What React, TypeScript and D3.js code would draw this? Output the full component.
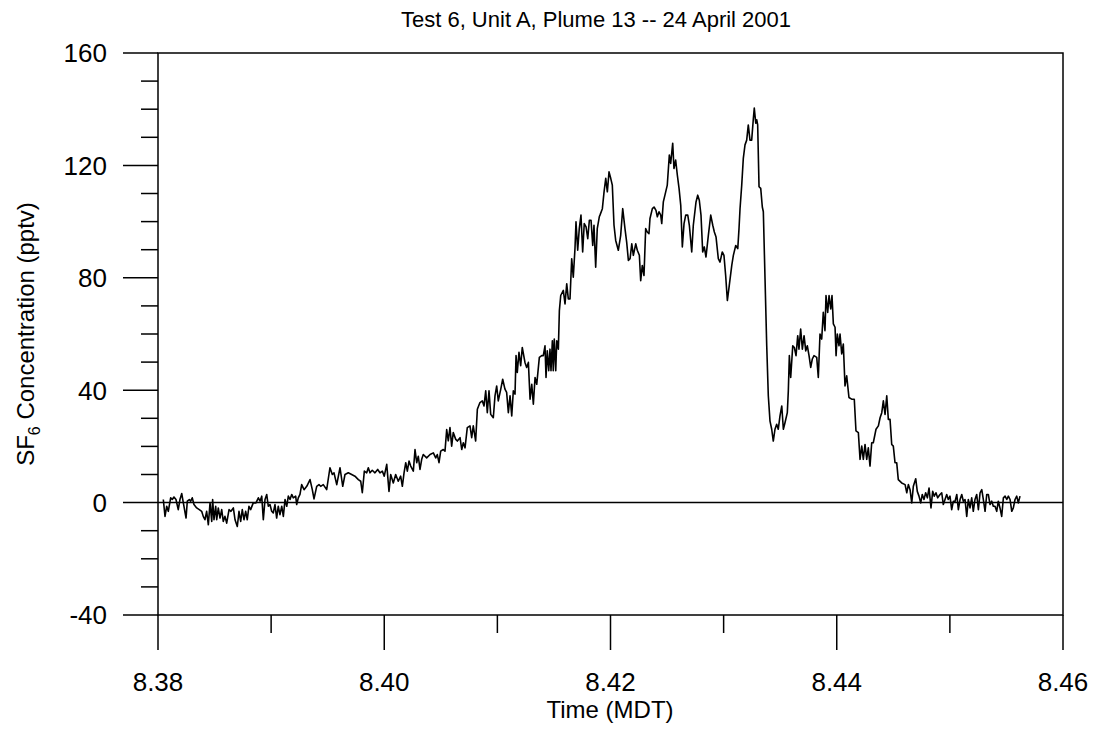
import { useEffect, useRef } from 'react';
import * as d3 from 'd3';

// axis ticks
const yMajorTicks = [-40, 0, 40, 80, 120, 160];
const yMinorTicks = [-30, -20, -10, 10, 20, 30, 50, 60, 70, 90, 100, 110, 130, 140, 150];
const xMajorTicks = [8.38, 8.4, 8.42, 8.44, 8.46];
const xMinorTicks = [8.39, 8.41, 8.43, 8.45];

// SF6 record, [time (decimal hours MDT), concentration (pptv)]
const preBaseline: [number, number][] = [
  [8.38047, 1.1], [8.38062, -4.9], [8.38077, -1.3], [8.38091, -3.1], [8.38112, 1.7], [8.38126, 1.1],
  [8.38141, 2.0], [8.38159, 1.1], [8.38179, -2.5], [8.38194, 1.1], [8.3821, 3.2], [8.38224, -0.1],
  [8.38248, -5.5], [8.38259, 0.5], [8.38277, 1.1], [8.38289, 0.5], [8.38303, 1.7], [8.38318, -0.7],
  [8.38342, -1.9], [8.38365, -2.5], [8.38386, -3.1], [8.384, -4.9], [8.38415, -6.1], [8.3843, -3.1],
  [8.38445, -7.9], [8.3846, -0.1], [8.38475, -6.7], [8.38483, 1.1], [8.38495, -6.1], [8.3851, -1.3],
  [8.38519, -6.1], [8.38533, -1.9], [8.38548, -5.5], [8.38563, -2.5], [8.38577, -6.7], [8.38592, -4.9],
  [8.38607, -7.3], [8.38628, -2.5], [8.38645, -3.1], [8.38666, -1.9], [8.38681, -6.1], [8.38701, -8.5],
  [8.38716, -3.1], [8.38731, -6.7], [8.38745, -2.5], [8.3876, -6.1], [8.38775, -3.1], [8.38789, -6.1],
  [8.38804, -1.3], [8.38819, -2.5], [8.38842, -0.1], [8.38866, -0.1], [8.38887, 1.7], [8.38902, 0.5],
  [8.38917, 2.3], [8.38931, -6.1], [8.38946, 1.1], [8.38961, 2.9], [8.38975, -1.3], [8.3899, -0.7],
  [8.39005, -3.1], [8.39019, -3.7], [8.39034, -0.7], [8.39049, -5.5], [8.39063, -1.3], [8.39078, -4.3],
  [8.39094, -1.3], [8.39108, -4.9], [8.39123, 1.1], [8.39138, -1.3], [8.39152, 2.3], [8.39167, 1.1],
  [8.39182, 2.9], [8.39196, 1.7], [8.39217, 2.3], [8.39226, -0.7], [8.3924, 1.7], [8.39255, 2.9],
];

const rise: [number, number][] = [
  [8.3927, 6.4], [8.39291, 4.6], [8.39315, 5.8], [8.39344, 8.2], [8.39364, 4.6], [8.39379, 1.3],
  [8.39403, 5.8], [8.39423, 6.4], [8.39438, 5.8], [8.39461, 6.4], [8.39491, 4.6], [8.3952, 12.4],
  [8.39541, 10.0], [8.39556, 10.6], [8.3958, 6.4], [8.39609, 12.4], [8.39633, 5.8], [8.39653, 10.0],
  [8.39682, 10.6], [8.39712, 10.0], [8.39741, 9.4], [8.39771, 8.2], [8.39792, 7.6], [8.39806, 3.5],
  [8.39824, 11.2], [8.39845, 10.6], [8.39859, 12.4], [8.39874, 10.6], [8.39894, 11.5], [8.39918, 10.6],
  [8.39942, 11.8], [8.39962, 10.6], [8.39983, 11.2], [8.4, 9.4], [8.40022, 13.6], [8.40042, 4.0],
  [8.40057, 10.0], [8.4008, 7.0], [8.40101, 10.0], [8.40124, 7.6], [8.40145, 9.4], [8.4016, 5.8],
  [8.40175, 10.6], [8.4019, 14.2], [8.40204, 11.2], [8.40219, 14.8], [8.40234, 13.0], [8.40257, 11.2],
  [8.40272, 18.9], [8.40287, 14.2], [8.40301, 16.5], [8.40316, 11.8], [8.40331, 15.4], [8.40345, 17.1],
  [8.40375, 15.9], [8.40405, 17.1], [8.40434, 17.7], [8.40455, 15.9], [8.40469, 17.1], [8.40484, 14.2],
  [8.40499, 18.3], [8.40522, 18.9], [8.40537, 18.3], [8.40552, 26.0], [8.40566, 22.0], [8.40581, 26.7],
  [8.40596, 20.1], [8.4061, 24.9], [8.40632, 22.5], [8.40646, 21.9], [8.4067, 23.1], [8.40685, 18.9],
  [8.40699, 21.3], [8.40714, 19.5], [8.40734, 26.7], [8.40758, 27.3], [8.40773, 23.1], [8.40787, 27.3],
  [8.40808, 21.9], [8.40823, 33.2], [8.40846, 35.6], [8.40867, 36.2], [8.40882, 34.4], [8.40897, 39.8],
  [8.40911, 32.0], [8.40926, 39.8], [8.40941, 31.4], [8.40964, 30.2], [8.40979, 38.0], [8.40994, 41.5],
  [8.41008, 36.2], [8.4103, 40.4], [8.41047, 43.9], [8.41067, 40.4], [8.41082, 39.2], [8.41097, 32.0],
  [8.41112, 38.0], [8.41127, 30.8], [8.41141, 39.8], [8.41156, 38.6], [8.41165, 52.3], [8.41176, 46.3],
  [8.41191, 53.5], [8.41206, 48.7], [8.4122, 55.2], [8.41244, 49.9], [8.41259, 48.1], [8.41274, 49.9],
  [8.41289, 36.8], [8.41304, 42.1], [8.41318, 35.0], [8.41333, 44.5], [8.41348, 42.1], [8.41371, 51.7],
  [8.41392, 52.3], [8.41406, 52.3], [8.41421, 55.8], [8.4143, 44.5], [8.41441, 54.0], [8.41454, 46.9],
  [8.41465, 54.6], [8.41474, 46.9], [8.41486, 57.6], [8.41494, 46.9], [8.41503, 58.2], [8.41516, 46.9],
  [8.41525, 57.6], [8.41539, 54.6], [8.41548, 68.3], [8.4156, 73.7], [8.41583, 75.5], [8.41598, 70.7],
  [8.41613, 77.9], [8.41627, 72.5], [8.41642, 72.5], [8.41657, 86.8], [8.41671, 80.2], [8.41686, 90.4],
];

const plumeCore: [number, number][] = [
  [8.41695, 99.9], [8.4171, 89.8], [8.41724, 97.5], [8.41739, 102.3], [8.41754, 89.2], [8.41768, 99.3],
  [8.41784, 98.1], [8.41799, 93.9], [8.41813, 100.5], [8.41828, 100.5], [8.41843, 91.5], [8.41854, 98.7],
  [8.41869, 83.8], [8.41883, 97.5], [8.41901, 101.7], [8.41907, 102.3], [8.41928, 104.6], [8.41943, 110.6],
  [8.41958, 115.4], [8.41972, 110.6], [8.41987, 117.7], [8.42002, 115.4], [8.42016, 113.0], [8.42031, 98.7],
  [8.42046, 93.3], [8.42069, 89.8], [8.4209, 95.1], [8.42108, 104.6], [8.42128, 97.5], [8.42143, 92.7],
  [8.42158, 86.2], [8.42173, 86.8], [8.42188, 92.1], [8.42202, 88.0], [8.42223, 92.1], [8.42237, 89.8],
  [8.42255, 88.0], [8.42267, 79.0], [8.42281, 84.4], [8.42296, 80.8], [8.42311, 97.5], [8.42325, 96.3],
  [8.4234, 95.7], [8.42349, 101.1], [8.4237, 104.6], [8.42385, 105.2], [8.42402, 104.0], [8.42414, 101.7],
  [8.42429, 103.5], [8.42444, 102.3], [8.42453, 99.3], [8.42467, 107.0], [8.42488, 110.6], [8.42502, 113.0],
  [8.4252, 123.7], [8.42532, 120.7], [8.4255, 127.9], [8.42561, 118.9], [8.42576, 121.9], [8.42591, 116.5],
  [8.42606, 111.8], [8.42621, 105.8], [8.42635, 91.0], [8.4265, 99.3], [8.42665, 102.3], [8.42683, 102.3],
  [8.42697, 98.7], [8.42718, 89.2], [8.42732, 98.7], [8.42756, 107.0], [8.42771, 109.4], [8.42785, 107.6],
  [8.428, 102.3], [8.42815, 89.2], [8.42829, 91.0], [8.42844, 87.4], [8.42865, 95.1], [8.42886, 102.3],
  [8.42904, 98.7], [8.42918, 96.3], [8.42933, 94.5], [8.42953, 86.8], [8.42968, 85.6], [8.42988, 89.2],
  [8.43003, 88.0], [8.43018, 80.8], [8.43033, 71.9], [8.4305, 77.3], [8.43072, 84.4], [8.43086, 88.0],
  [8.43107, 91.5], [8.43125, 90.4], [8.43136, 97.5], [8.43145, 104.6], [8.4316, 113.0], [8.43174, 122.5],
  [8.43189, 127.3], [8.43204, 129.0], [8.43218, 134.4], [8.43233, 129.0], [8.43248, 129.0], [8.43263, 136.8],
  [8.43271, 140.4], [8.43284, 135.0], [8.43293, 136.2], [8.43301, 134.4], [8.43313, 112.4], [8.43328, 111.8],
  [8.43342, 105.2], [8.43351, 103.5], [8.43366, 79.6], [8.43381, 55.8], [8.43395, 38.0], [8.4341, 29.0],
  [8.43425, 26.1], [8.43439, 21.9],
];

const secondHump: [number, number][] = [
  [8.43454, 26.1], [8.43469, 27.9], [8.43483, 26.1], [8.43498, 30.8], [8.43514, 34.4], [8.43528, 26.1],
  [8.43543, 28.5], [8.43563, 32.0], [8.43572, 39.8], [8.43581, 52.3], [8.43593, 44.5], [8.43611, 55.8],
  [8.43625, 55.2], [8.4364, 52.3], [8.43655, 59.4], [8.43666, 54.6], [8.43681, 61.8], [8.43696, 54.6],
  [8.43711, 59.4], [8.43726, 54.0], [8.4374, 55.8], [8.43755, 52.3], [8.4377, 48.1], [8.43784, 51.1],
  [8.43799, 52.3], [8.43823, 51.7], [8.43837, 44.5], [8.43852, 60.0], [8.43867, 58.2], [8.43881, 67.7],
  [8.43896, 61.2], [8.43905, 73.7], [8.4392, 67.7], [8.43932, 73.7], [8.43947, 68.9], [8.43958, 73.7],
  [8.4397, 63.6], [8.43985, 62.4], [8.43994, 52.3], [8.44005, 60.0], [8.4402, 55.8], [8.44029, 60.0],
  [8.44044, 52.9], [8.44058, 56.4], [8.44073, 41.5], [8.44088, 45.1], [8.44108, 37.4], [8.44132, 36.8],
  [8.44155, 36.8], [8.4417, 25.5], [8.44191, 24.9], [8.44206, 15.4], [8.44221, 20.1], [8.44235, 15.4],
  [8.4425, 20.7], [8.44265, 15.4], [8.44279, 19.5], [8.44294, 13.0], [8.44309, 21.3], [8.44323, 21.3],
  [8.44347, 26.1], [8.44368, 27.3], [8.44383, 30.2], [8.44398, 32.0], [8.44412, 36.2], [8.44427, 31.4],
  [8.44442, 38.0], [8.44456, 29.6], [8.44471, 29.6], [8.44486, 20.7], [8.445, 20.1], [8.44515, 14.2],
  [8.4453, 14.2], [8.44544, 8.2],
];

const postBaseline: [number, number][] = [
  [8.44574, 7.0], [8.44604, 6.4], [8.44619, 3.5], [8.44633, 6.4], [8.44648, 4.6], [8.44663, -0.1],
  [8.44677, 5.8], [8.44698, 8.5], [8.44712, 4.0], [8.44727, 2.3], [8.44742, -0.1], [8.44756, 2.9],
  [8.44771, 1.1], [8.44786, 3.5], [8.44801, 1.7], [8.44816, 5.2], [8.44833, -1.9], [8.44848, 4.0],
  [8.44862, 2.3], [8.44877, 3.5], [8.44892, 1.7], [8.44913, 2.9], [8.44928, 3.5], [8.44942, -0.7],
  [8.44957, 1.1], [8.44972, 2.9], [8.44986, 1.1], [8.45001, 2.3], [8.45016, -2.5], [8.45031, 0.5],
  [8.45046, 0.5], [8.45061, 2.9], [8.45075, -2.5], [8.4509, 1.1], [8.45105, 2.9], [8.45119, 0.5],
  [8.45134, 1.1], [8.45149, -4.9], [8.45163, 1.1], [8.45178, -1.9], [8.45193, 1.7], [8.45207, -3.1],
  [8.45222, 1.1], [8.45237, 2.9], [8.45252, -2.5], [8.45267, 3.5], [8.45282, 4.6], [8.45296, 1.1],
  [8.45311, -3.1], [8.45326, 2.9], [8.4534, 2.9], [8.45355, -0.7], [8.4537, 0.5], [8.45384, -1.3],
  [8.45399, -1.3], [8.45414, -3.1], [8.45428, 0.5], [8.45443, -1.9], [8.45458, -4.9], [8.45473, 1.7],
  [8.45488, 2.3], [8.45503, 1.1], [8.45517, 2.3], [8.45532, 1.1], [8.45547, -3.1], [8.45561, -1.9],
  [8.45576, 1.1], [8.45591, 2.3], [8.45605, -0.1], [8.4562, 2.3],
];

const sf6Series = [...preBaseline, ...rise, ...plumeCore, ...secondHump, ...postBaseline];

const FONT = 'Arial, "Liberation Sans", sans-serif';

export default function App() {
  const svgRef = useRef<SVGSVGElement>(null);

  useEffect(() => {
    if (!svgRef.current) return;
    d3.select(svgRef.current).selectAll('*').remove();

    const width = 1099;
    const height = 731;
    const plot = { left: 158, right: 1063, top: 53, bottom: 615 };
    const majorLen = 35;
    const minorLen = 17;

    const svg = d3.select(svgRef.current)
      .attr('width', width)
      .attr('height', height)
      .attr('viewBox', `0 0 ${width} ${height}`);

    const x = d3.scaleLinear().domain([8.38, 8.46]).range([plot.left, plot.right]);
    const y = d3.scaleLinear().domain([-40, 160]).range([plot.bottom, plot.top]);

    const axes = svg.append('g')
      .attr('stroke', '#000')
      .attr('stroke-width', 1.5)
      .attr('fill', 'none');

    // frame
    axes.append('rect')
      .attr('x', plot.left)
      .attr('y', plot.top)
      .attr('width', plot.right - plot.left)
      .attr('height', plot.bottom - plot.top);

    // zero reference line
    axes.append('line')
      .attr('x1', plot.left).attr('x2', plot.right)
      .attr('y1', y(0)).attr('y2', y(0));

    // y ticks (outward, left side)
    axes.selectAll('line.ymaj')
      .data(yMajorTicks)
      .enter().append('line')
      .attr('class', 'ymaj')
      .attr('x1', plot.left - majorLen).attr('x2', plot.left)
      .attr('y1', d => y(d)).attr('y2', d => y(d));

    axes.selectAll('line.ymin')
      .data(yMinorTicks)
      .enter().append('line')
      .attr('class', 'ymin')
      .attr('x1', plot.left - minorLen).attr('x2', plot.left)
      .attr('y1', d => y(d)).attr('y2', d => y(d));

    // x ticks (outward, below)
    axes.selectAll('line.xmaj')
      .data(xMajorTicks)
      .enter().append('line')
      .attr('class', 'xmaj')
      .attr('x1', d => x(d)).attr('x2', d => x(d))
      .attr('y1', plot.bottom).attr('y2', plot.bottom + majorLen);

    axes.selectAll('line.xmin')
      .data(xMinorTicks)
      .enter().append('line')
      .attr('class', 'xmin')
      .attr('x1', d => x(d)).attr('x2', d => x(d))
      .attr('y1', plot.bottom).attr('y2', plot.bottom + minorLen + 1);

    // tick labels (plain hyphen for negatives, like the original)
    svg.append('g')
      .selectAll('text')
      .data(yMajorTicks)
      .enter().append('text')
      .attr('x', plot.left - majorLen - 16)
      .attr('y', d => y(d))
      .attr('dy', '0.36em')
      .attr('text-anchor', 'end')
      .style('font-family', FONT)
      .style('font-size', '26px')
      .text(d => String(d));

    svg.append('g')
      .selectAll('text')
      .data(xMajorTicks)
      .enter().append('text')
      .attr('x', d => x(d))
      .attr('y', 691)
      .attr('text-anchor', 'middle')
      .style('font-family', FONT)
      .style('font-size', '26px')
      .text(d => d.toFixed(2));

    // data line
    const line = d3.line<[number, number]>()
      .x(d => x(d[0]))
      .y(d => y(d[1]));

    svg.append('path')
      .datum(sf6Series)
      .attr('d', line)
      .attr('fill', 'none')
      .attr('stroke', '#000')
      .attr('stroke-width', 1.6)
      .attr('stroke-linejoin', 'round');

    // titles
    svg.append('text')
      .attr('x', 596)
      .attr('y', 27)
      .attr('text-anchor', 'middle')
      .style('font-family', FONT)
      .style('font-size', '22px')
      .text('Test 6, Unit A, Plume 13 -- 24 April 2001');

    svg.append('text')
      .attr('x', 610)
      .attr('y', 718)
      .attr('text-anchor', 'middle')
      .style('font-family', FONT)
      .style('font-size', '24px')
      .text('Time (MDT)');

    const yLabel = svg.append('text')
      .attr('transform', `translate(34,${(plot.top + plot.bottom) / 2}) rotate(-90)`)
      .attr('text-anchor', 'middle')
      .style('font-family', FONT)
      .style('font-size', '24px');
    yLabel.append('tspan').text('SF');
    yLabel.append('tspan').attr('dy', 6).style('font-size', '16px').text('6');
    yLabel.append('tspan').attr('dy', -6).text(' Concentration (pptv)');
  }, []);

  return (
    <div style={{ position: 'absolute', left: 0, top: 0, background: '#fff' }}>
      <svg ref={svgRef} style={{ display: 'block' }} />
    </div>
  );
}
